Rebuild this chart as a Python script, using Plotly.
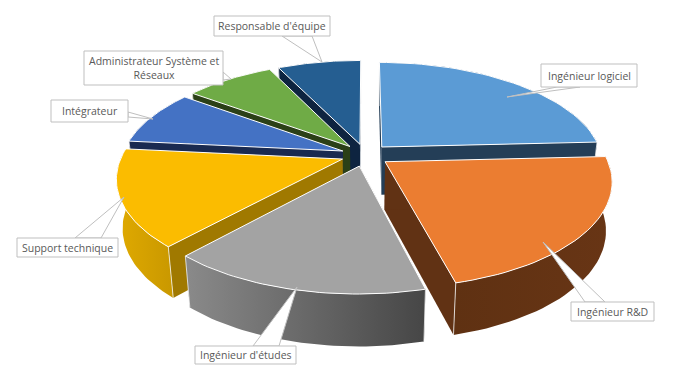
import math
import plotly.graph_objects as go

# ---- data (percent of the pie, clockwise from 12 o'clock)
categories = ["Ingénieur logiciel", "Ingénieur R&D", "Ingénieur d'études", "Support technique",
              "Intégrateur", "Administrateur Système et<br>Réseaux", "Responsable d'équipe"]
values = [24.2, 21.8, 15.7, 14.9, 8.5, 7.7, 7.2]
top_colors = ["#5b9bd5", "#eb7d31", "#a3a3a3", "#fbbc00", "#4472c4", "#6fab46", "#255e91"]
wall_colors = ["#243e57", "#613214", "#5a5a5a", "#a07900", "#1a2a50", "#2b4017", "#0e2440"]
arc_left = ["#243e57", "#5f3112", "#8a8a8a", "#e0aa00", "#1a2a50", "#2b4017", "#0e2440"]
arc_right = ["#243e57", "#683515", "#464646", "#c99800", "#1a2a50", "#2b4017", "#0e2440"]
paint_order = [6, 5, 4, 0, 3, 1, 2]

# ---- projection of the tilted pie, in page pixels
CX, CY = 365.3, 155.0
RX, RY, K = 220.5, 101.7, 0.172
EXPLODE = 0.11
DEPTH = 48.0


def project(u, v):
    f = 1 - K * v
    return CX + RX * u / f, CY + RY * v / f


def lower(u, v):
    x, y = project(u, v)
    return CX + (x - CX) * 0.975, y + DEPTH + 4 * v


def polar(a, r=1.0):
    return r * math.sin(a), -r * math.cos(a)


fig = go.Figure()


def poly(xs, ys, color=None, line="white", lw=0.8, grad=None):
    kw = dict(x=list(xs) + [xs[0]], y=list(ys) + [ys[0]], mode="lines", fill="toself",
              line=dict(color=line, width=lw), hoverinfo="skip", showlegend=False)
    if grad:
        kw["fillgradient"] = dict(type="horizontal", colorscale=[[0, grad[0]], [1, grad[1]]])
    else:
        kw["fillcolor"] = color
    fig.add_trace(go.Scatter(**kw))


total = sum(values)
slices = []
acc = 0.0
for val in values:
    a0 = acc / total * 2 * math.pi
    acc += val
    a1 = acc / total * 2 * math.pi
    slices.append((a0, a1))

for i in paint_order:
    a0, a1 = slices[i]
    mid = (a0 + a1) / 2
    ou, ov = polar(mid, EXPLODE)
    n = 40
    arc = [(ou + polar(a0 + (a1 - a0) * j / n)[0], ov + polar(a0 + (a1 - a0) * j / n)[1]) for j in range(n + 1)]
    for end in (arc[-1], arc[0]):
        pts = [project(ou, ov), project(*end), lower(*end), lower(ou, ov)]
        poly([p[0] for p in pts], [p[1] for p in pts], wall_colors[i], line="rgba(0,0,0,0)", lw=0)
    up = [project(*p) for p in arc]
    lo = [lower(*p) for p in reversed(arc)]
    rim = up + lo
    poly([p[0] for p in rim], [p[1] for p in rim], line="rgba(0,0,0,0)", lw=0,
         grad=(arc_left[i], arc_right[i]))
    for end in (arc[0], arc[-1]):
        p, q = project(*end), lower(*end)
        fig.add_trace(go.Scatter(x=[p[0], q[0]], y=[p[1], q[1]], mode="lines", hoverinfo="skip", showlegend=False,
                                 line=dict(color="#f2f2f2", width=0.8)))
    top = [project(ou, ov)] + up
    poly([p[0] for p in top], [p[1] for p in top], top_colors[i], line="white", lw=1)

# ---- data-label callouts: box (x0, y0, x1, y1), tip, base points on the box
label_boxes = [(541, 64, 637, 87), (571, 302, 654, 321), (195, 346, 296, 364), (17, 238, 118, 257),
               (51, 100, 128, 122), (84, 51, 223, 85), (214, 16, 330, 36)]
label_tips = [(507, 97), (543, 242), (297, 287), (124, 197), (153, 119), (231, 79), (322, 62)]
label_bases = [((557, 87), (580, 87)), ((585, 302), (605, 302)), ((253, 346), (279, 346)),
               ((75, 238), (101, 238)), ((128, 112), (128, 117)), ((223, 72), (223, 80)),
               ((282, 36), (312, 36))]
annotations = []
for name, box, tip, base in zip(categories, label_boxes, label_tips, label_bases):
    x0, y0, x1, y1 = box
    poly([base[0][0], tip[0], base[1][0]], [base[0][1], tip[1], base[1][1]], "white", line="#bfbfbf", lw=1)
    poly([x0, x1, x1, x0], [y0, y0, y1, y1], "white", line="#bfbfbf", lw=1)
    annotations.append(dict(x=(x0 + x1) / 2, y=(y0 + y1) / 2, xref="x", yref="y", text=name, showarrow=False,
                            font=dict(family="Open Sans", size=10.5, color="#595959"), align="center"))

fig.update_layout(width=683, height=379, margin=dict(l=0, r=0, t=0, b=0), paper_bgcolor="white",
                  plot_bgcolor="white", annotations=annotations, showlegend=False,
                  xaxis=dict(range=[0, 683], visible=False, fixedrange=True),
                  yaxis=dict(range=[379, 0], visible=False, fixedrange=True))
fig.write_html("out.html", post_script="document.body.style.margin='0';", config={"displayModeBar": False})
